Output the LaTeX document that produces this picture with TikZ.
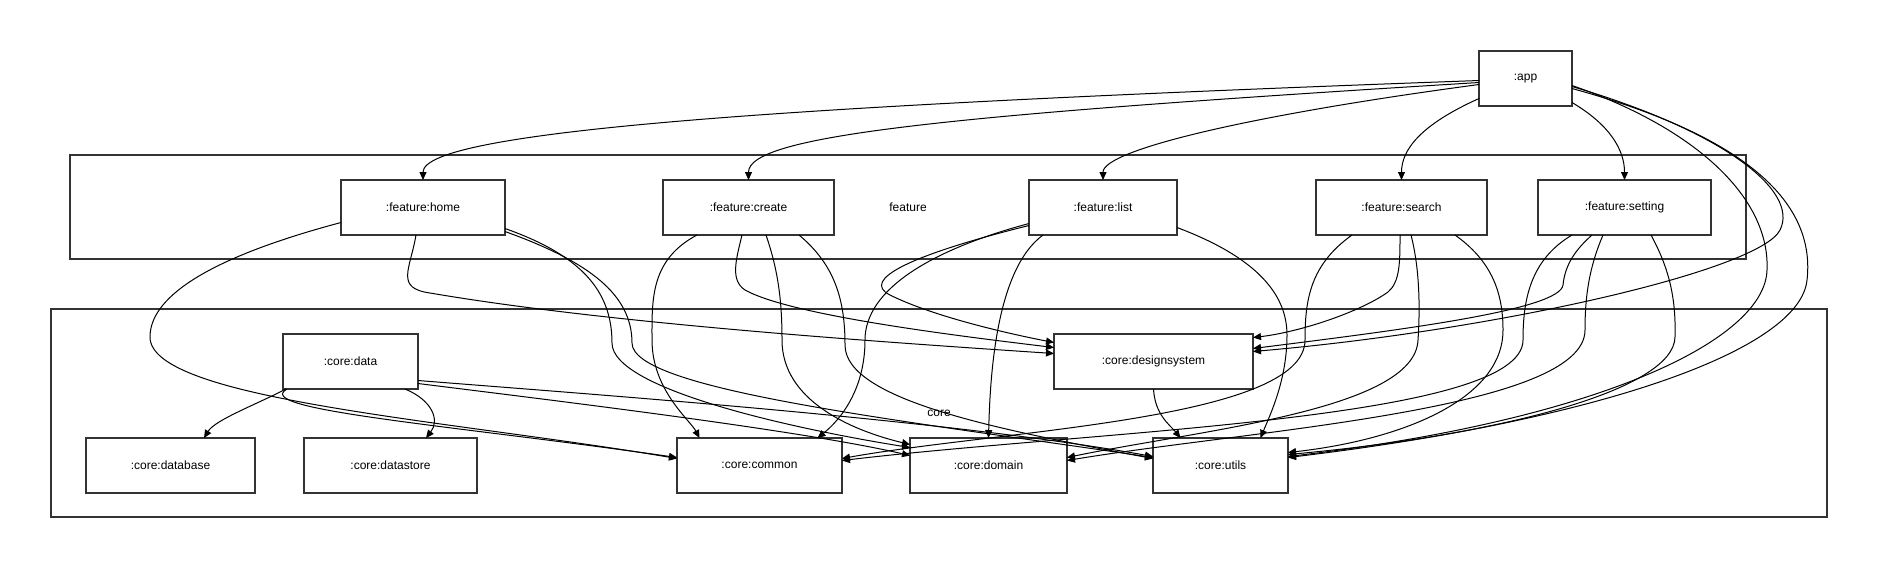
\documentclass[tikz,border=0pt]{standalone}
\usepackage{fontspec}
\setmainfont{Liberation Sans}
\usetikzlibrary{calc,arrows.meta}
\begin{document}
\begin{tikzpicture}[x=0.5pt,y=-0.5pt,
  mod/.style={draw=black!80, line width=1pt, minimum height=27.5pt, inner sep=0pt, outer sep=0pt, fill=white, font=\fontsize{6}{7}\selectfont},
  cluster/.style={draw=black!80, line width=1pt, inner sep=0pt, outer sep=0pt, font=\fontsize{6}{7}\selectfont},
  edge/.style={draw=black, line width=0.5pt, -{Triangle[length=4pt,width=3.5pt]}}
]
\useasboundingbox (0,0) rectangle (1878,569);
% clusters
\node[cluster, minimum width=838pt, minimum height=52pt] (featcl) at (908,207) {feature};
\node[cluster, minimum width=888pt, minimum height=104pt] (corecl) at (939,413) {core};
% modules
\node[mod, minimum width=46.5pt] (app) at (1525.5,78.5) {:app};
\node[mod, minimum width=82pt] (home) at (423,207.5) {:feature:home};
\node[mod, minimum width=85.5pt] (create) at (748.5,207.5) {:feature:create};
\node[mod, minimum width=74pt] (list) at (1103,207.5) {:feature:list};
\node[mod, minimum width=85.5pt] (search) at (1401.5,207.5) {:feature:search};
\node[mod, minimum width=86.5pt] (setting) at (1624.5,207.5) {:feature:setting};
\node[mod, minimum width=67.5pt] (data) at (350.5,361.5) {:core:data};
\node[mod, minimum width=99.5pt] (ds) at (1153.5,361.5) {:core:designsystem};
\node[mod, minimum width=84.5pt] (database) at (170.5,465.5) {:core:database};
\node[mod, minimum width=86.5pt] (datastore) at (390.5,465.5) {:core:datastore};
\node[mod, minimum width=82.5pt] (common) at (759.5,465.5) {:core:common};
\node[mod, minimum width=78.5pt] (domain) at (988.5,465.5) {:core:domain};
\node[mod, minimum width=67.5pt] (utils) at (1220.5,465.5) {:core:utils};
% app edges
\draw[edge] ($(app.west)+(0,2)$) .. controls (800,105) and (423,130) .. (home.north);
\draw[edge] ($(app.west)+(0,4)$) .. controls (950,115) and (748.5,135) .. (create.north);
\draw[edge] ($(app.west)+(0,6)$) .. controls (1250,115) and (1103,150) .. (list.north);
\draw[edge] ($(app.west)+(0,20)$) .. controls (1420,125) and (1401.5,150) .. (search.north);
\draw[edge] ($(app.east)+(0,24)$) .. controls (1610,125) and (1624.5,150) .. (setting.north);
\draw[edge] ($(app.east)+(0,8)$) .. controls (1720,130) and (1800,190) .. (1780,230) .. controls (1760,270) and (1500,330) .. ($(ds.east)+(0,-10)$);
\draw[edge] ($(app.east)+(0,10)$) .. controls (1760,140) and (1815,210) .. (1807,280) .. controls (1800,350) and (1600,420) .. ($(utils.east)+(0,-8)$);
\draw[edge] ($(app.east)+(0,7)$) .. controls (1700,130) and (1770,200) .. (1767,270) .. controls (1765,340) and (1600,420) .. ($(utils.east)+(0,-9)$);
% home edges
\draw[edge] ($(home.west)+(0,15)$) .. controls (200,260) and (150,300) .. (150,337) .. controls (150,400) and (450,420) .. ($(common.west)+(0,-7)$);
\draw[edge] ($(home.south)+(-7,0)$) .. controls (410,270) and (395,288) .. (430,293) .. controls (600,322) and (850,340) .. ($(ds.west)+(0,-8)$);
\draw[edge] ($(home.east)+(0,21)$) .. controls (580,255) and (612,290) .. (612,343) .. controls (612,390) and (800,430) .. ($(domain.west)+(0,-18)$);
\draw[edge] ($(home.east)+(0,24)$) .. controls (590,262) and (632,295) .. (632,343) .. controls (632,390) and (900,420) .. ($(utils.west)+(0,-8)$);
% create edges
\draw[edge] ($(create.south)+(-51.5,0)$) .. controls (650,260) and (652,300) .. (652,340) .. controls (652,390) and (690,420) .. ($(common.north)+(-60,0)$);
\draw[edge] ($(create.south)+(-6.5,0)$) .. controls (736,260) and (730,280) .. (745,290) .. controls (790,315) and (950,335) .. ($(ds.west)+(0,-14)$);
\draw[edge] ($(create.south)+(17.5,0)$) .. controls (778,270) and (782,300) .. (782,340) .. controls (782,400) and (850,430) .. ($(domain.west)+(0,-21)$);
\draw[edge] ($(create.south)+(50.5,0)$) .. controls (835,265) and (845,300) .. (845,345) .. controls (845,400) and (1000,430) .. ($(utils.west)+(0,-7)$);
% list edges
\draw[edge] ($(list.west)+(0,16)$) .. controls (930,250) and (865,290) .. (865,340) .. controls (865,390) and (840,420) .. ($(common.north)+(58,0)$);
\draw[edge] ($(list.west)+(0,18)$) .. controls (910,255) and (860,280) .. (890,295) .. controls (930,315) and (1000,332) .. ($(ds.west)+(0,-19)$);
\draw[edge] ($(list.south)+(-60,0)$) .. controls (995,270) and (990,380) .. (domain.north);
\draw[edge] ($(list.east)+(0,20)$) .. controls (1250,255) and (1287,290) .. (1287,335) .. controls (1287,380) and (1270,415) .. ($(utils.north)+(40,0)$);
% designsystem edge
\draw[edge] (ds.south) .. controls (1155,415) and (1170,425) .. ($(utils.north)+(-40,0)$);
% search edges
\draw[edge] ($(search.south)+(-49.5,0)$) .. controls (1310,265) and (1305,300) .. (1305,340) .. controls (1305,420) and (1000,430) .. ($(common.east)+(0,-7)$);
\draw[edge] ($(search.south)+(-1.5,0)$) .. controls (1400,262) and (1400,282) .. (1388,292) .. controls (1360,312) and (1300,332) .. ($(ds.east)+(0,-24)$);
\draw[edge] ($(search.south)+(9.5,0)$) .. controls (1420,270) and (1420,310) .. (1418,340) .. controls (1415,410) and (1200,430) .. ($(domain.east)+(0,-8)$);
\draw[edge] ($(search.south)+(53.5,0)$) .. controls (1490,260) and (1503,290) .. (1503,330) .. controls (1503,400) and (1400,440) .. ($(utils.east)+(0,-13)$);
% setting edges
\draw[edge] ($(setting.south)+(-52.5,0)$) .. controls (1530,260) and (1523,300) .. (1523,340) .. controls (1523,420) and (1100,430) .. ($(common.east)+(0,-5)$);
\draw[edge] ($(setting.south)+(-32.5,0)$) .. controls (1575,250) and (1565,265) .. (1563,285) .. controls (1560,310) and (1400,330) .. ($(ds.east)+(0,-13)$);
\draw[edge] ($(setting.south)+(-21.5,0)$) .. controls (1588,270) and (1585,300) .. (1585,330) .. controls (1585,410) and (1250,430) .. ($(domain.east)+(0,-5)$);
\draw[edge] ($(setting.south)+(26.5,0)$) .. controls (1670,270) and (1676,300) .. (1675,337) .. controls (1674,390) and (1500,435) .. ($(utils.east)+(0,-11)$);
% data edges
\draw[edge] ($(data.south west)+(3,0)$) .. controls (255,405) and (215,420) .. ($(database.north)+(33.5,0)$);
\draw[edge] ($(data.south)+(54.5,0)$) .. controls (432,400) and (440,420) .. ($(datastore.north)+(35.5,0)$);
\draw[edge] ($(data.south west)+(4,0)$) .. controls (250,410) and (450,425) .. ($(common.west)+(0,-8)$);
\draw[edge] ($(data.east)+(0,22)$) .. controls (550,400) and (800,430) .. ($(domain.west)+(0,-10)$);
\draw[edge] ($(data.east)+(0,19)$) .. controls (600,395) and (950,420) .. ($(utils.west)+(0,-9)$);
\end{tikzpicture}
\end{document}
